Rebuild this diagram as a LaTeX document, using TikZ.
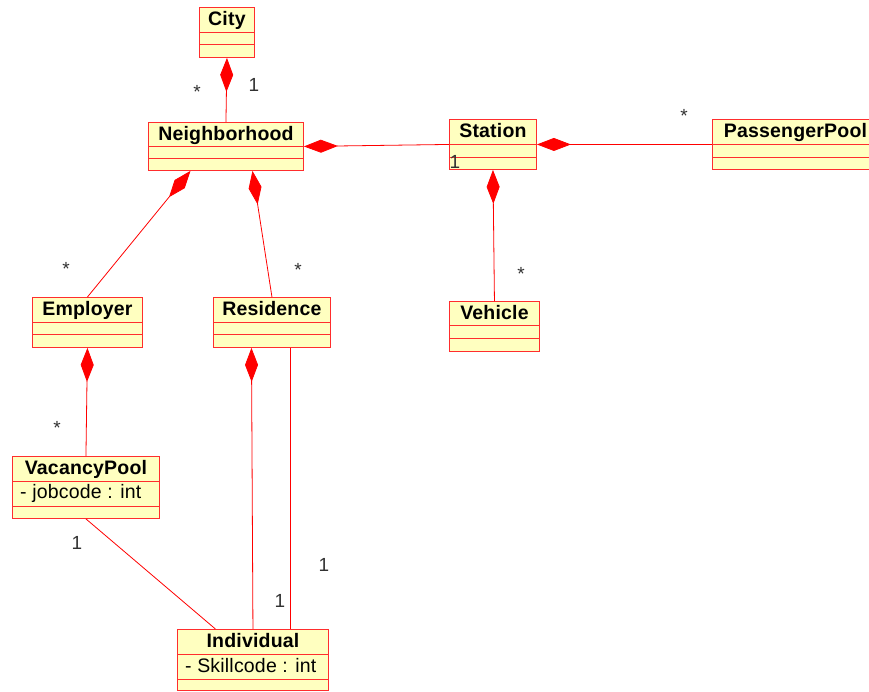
\documentclass[tikz,border=0pt]{standalone}
\usepackage{fontspec}
\setmainfont{Liberation Sans}[LetterSpace=1]
\usetikzlibrary{arrows.meta}
\definecolor{clsfill}{RGB}{255,255,192}
\definecolor{clsline}{RGB}{255,45,45}
\definecolor{multi}{RGB}{50,50,50}
\tikzset{
    cls/.style = {rectangle, draw=clsline, fill=clsfill, line width=0.9pt, anchor=north west, inner sep=0pt},
    clsname/.style = {anchor=base, inner sep=0pt, font=\fontsize{19.5}{21}\selectfont\bfseries},
    attr/.style = {anchor=base west, inner sep=0pt, font=\fontsize{19.5}{21}\selectfont},
    sep/.style = {draw=clsline, line width=0.9pt},
    assoc/.style = {draw=red, line width=0.8pt},
    comp/.style = {assoc, arrows={Diamond[length=34pt,width=13pt,fill=red]-}},
    mult/.style = {anchor=base, inner sep=0pt, text=multi, font=\fontsize{19}{21}\selectfont}
}
% id, position, width, height, first and second separator, title
\newcommand{\umlclass}[7]{
    \node[cls, minimum width=#3pt, minimum height=#4pt] (#1) at (#2) {};
    \node[clsname] (#1-name) at ([yshift=-18.5pt]#1.north) {#7};
    \draw[sep] ([yshift=-#5pt]#1.north west) -- ([yshift=-#5pt]#1.north east);
    \draw[sep] ([yshift=-#6pt]#1.north west) -- ([yshift=-#6pt]#1.north east);
}
\begin{document}
\begin{tikzpicture}[x=1pt, y=-1pt]
\useasboundingbox (0,0) rectangle (869,691);

% classes
\umlclass{city}{199,7}{55}{50}{25}{37}{City}
\umlclass{neigh}{148,122}{155}{48}{24}{36}{Neighborhood}
\umlclass{station}{449,119}{87}{50}{25}{38}{Station}
\umlclass{pool}{712,119}{166}{50}{25}{38}{PassengerPool}
\umlclass{employer}{32,297}{110}{50}{25}{37}{Employer}
\umlclass{residence}{213,297}{117}{50}{25}{37}{Residence}
\umlclass{vehicle}{449,301}{90}{50}{24}{37}{Vehicle}
\umlclass{vacancy}{12,456}{147}{62}{25}{50}{VacancyPool}
\umlclass{individual}{177,629}{151}{61}{25}{50}{Individual}

\node[attr] (vacancy-attr) at (20,498) {- jobcode : int};
\node[attr] (individual-attr) at (185,672) {- Skillcode : int};

% associations
\draw[comp] (city.south) -- (neigh.north);
\draw[comp] (neigh.east) -- (station.west);
\draw[comp] (station.east) -- (pool.west);
\draw[comp] (station.south) -- (vehicle.north);
\draw[comp] ([xshift=-35.5pt]neigh.south) -- (employer.north);
\draw[comp] ([xshift=26.5pt]neigh.south) -- (residence.north);
\draw[comp] (employer.south) -- (vacancy.north);
\draw[comp] ([xshift=-20.5pt]residence.south) -- (individual.north);
\draw[assoc] (vacancy.south) -- ([xshift=-37.5pt]individual.north);
\draw[assoc] ([xshift=18.5pt]residence.south) -- ([xshift=37.5pt]individual.north);

% multiplicities
\node[mult] (m-city-a) at (197,98) {*};
\node[mult] (m-city-b) at (254,91) {1};
\node[mult] (m-pool) at (684,122) {*};
\node[mult] (m-station) at (455,168) {1};
\node[mult] (m-vehicle) at (521,280) {*};
\node[mult] (m-employer) at (66,275) {*};
\node[mult] (m-residence) at (298,276) {*};
\node[mult] (m-vacancy-a) at (57,434) {*};
\node[mult] (m-vacancy-b) at (77,549) {1};
\node[mult] (m-indiv-a) at (280,607) {1};
\node[mult] (m-indiv-b) at (324,571) {1};
\end{tikzpicture}
\end{document}
